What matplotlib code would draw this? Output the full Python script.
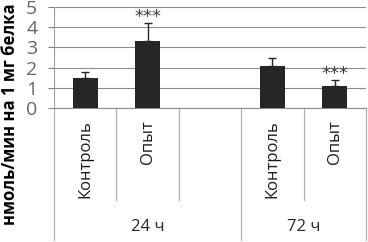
import matplotlib.pyplot as plt

groups = ["24 ч", "72 ч"]
labels = ["Контроль", "Опыт", "Контроль", "Опыт"]
values = [1.5, 3.33, 2.07, 1.07]
errors = [0.3, 0.87, 0.42, 0.3]
signif = ["", "***", "", "***"]

plt.rcParams['font.family'] = ['Open Sans', 'DejaVu Sans']

fig = plt.figure(figsize=(3.68, 2.42), dpi=100)
ax = fig.add_axes([54 / 368, 1 - 108 / 242, 312 / 368, 101 / 242])

# two bars per group, one empty slot between the groups
pos = [g * 3 + j for g in range(len(groups)) for j in range(2)]

ax.bar(pos, values, width=0.4, color='#262626', zorder=3)
ax.errorbar(pos, values, yerr=[[0] * len(values), errors], fmt='none',
            ecolor='#262626', elinewidth=1, capsize=3.2, capthick=1, zorder=4)
for x, v, e, s in zip(pos, values, errors, signif):
    if s:
        ax.text(x, v + e + 0.3, s, ha='center', va='center', fontsize=13,
                color='#404040', family='DejaVu Sans')

ax.set_xlim(-0.5, 4.5)
ax.set_ylim(0, 5)
ax.set_yticks(range(6))
ax.tick_params(axis='y', labelsize=14, colors='#808080', labelcolor='#666666',
               length=4, width=0.8, pad=8)
ax.grid(axis='y', color='#8c8c8c', linewidth=0.8, zorder=0)
ax.set_xticks([])
for sp in ['top', 'right']:
    ax.spines[sp].set_visible(False)
ax.spines['left'].set_color('#a0a0a0')
ax.spines['bottom'].set_color('#8c8c8c')
ax.spines['bottom'].set_linewidth(0.8)

# category labels and separators below the axis
tr = ax.get_xaxis_transform()
for x, lab in zip(pos, labels):
    ax.text(x, -0.12, lab, transform=tr, rotation=90, ha='center', va='top',
            fontsize=12, color='#1a1a1a')
for b in [0.5, 1.5, 3.5]:
    ax.plot([b, b], [0, -0.91], transform=tr, color='#b0b0b0', lw=0.9,
            clip_on=False)
bounds = [-0.5, 2.5, 4.5]
for b in bounds:
    ax.plot([b, b], [0, -1.31], transform=tr, color='#b0b0b0', lw=0.9,
            clip_on=False)
for g, name in enumerate(groups):
    ax.text((bounds[g] + bounds[g + 1]) / 2, -1.18, name, transform=tr,
            ha='center', va='center', fontsize=12, color='#262626')

fig.text(0.027, 0.53, "нмоль/мин на 1 мг белка", rotation=90, ha='center',
         va='center', fontsize=12, fontweight='bold', color='black')

fig.savefig('out.png', dpi=100)
